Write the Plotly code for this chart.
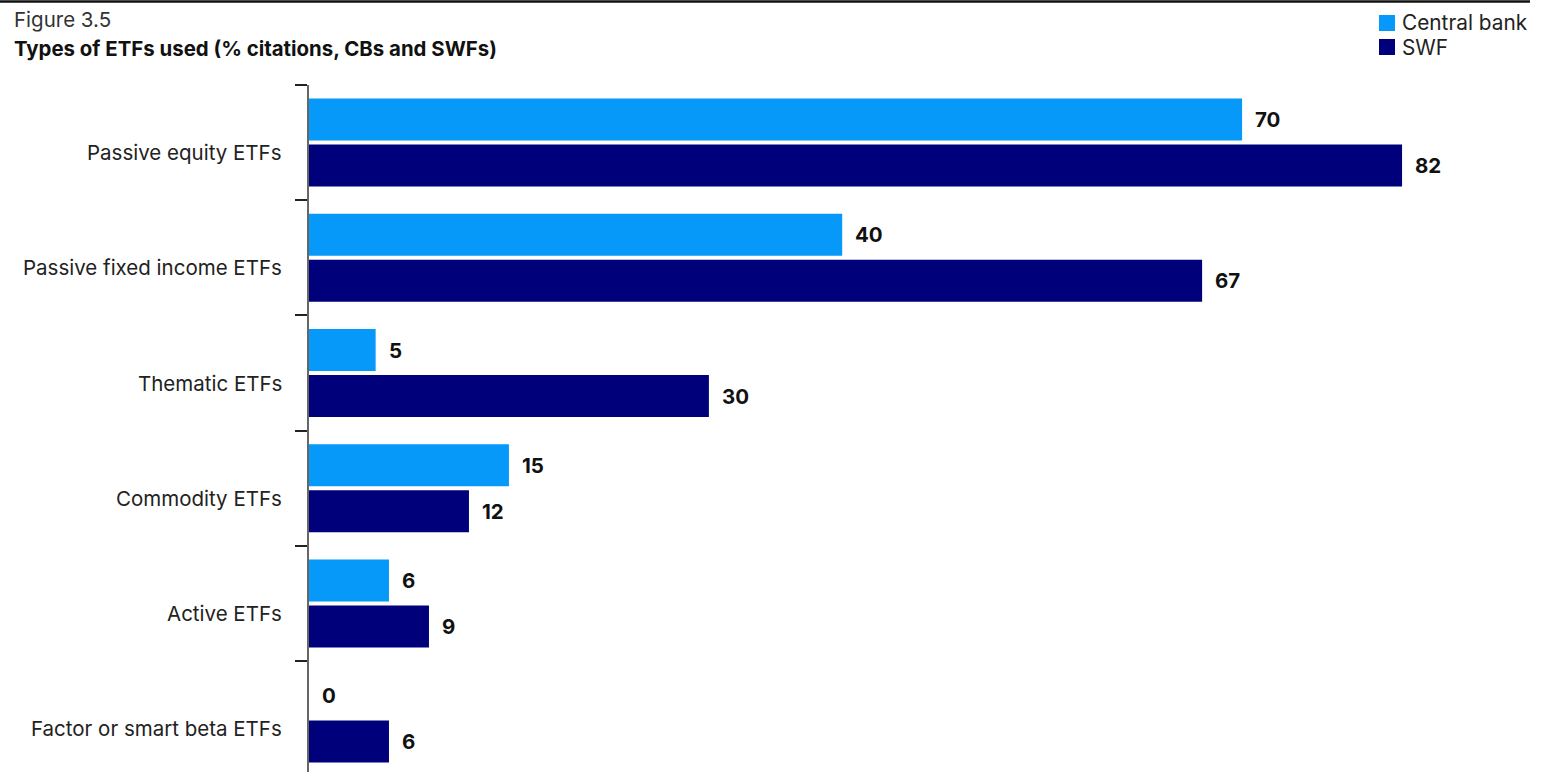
import plotly.graph_objects as go

categories = ["Passive equity ETFs", "Passive fixed income ETFs", "Thematic ETFs",
              "Commodity ETFs", "Active ETFs", "Factor or smart beta ETFs"]
central_bank = [70, 40, 5, 15, 6, 0]
swf = [82, 67, 30, 12, 9, 6]
series_names = ["Central bank", "SWF"]

CB_COLOR = "#0799FA"
SWF_COLOR = "#00007A"
FONT = "Inter"

W, H = 1544, 772
ML, MT = 309, 85
PW, PH = W - ML, H - MT


def px_x(p):
    return (p - ML) / PW


def px_y(p):
    return 1 - (p - MT) / PH


fig = go.Figure()
fig.add_trace(go.Bar(y=categories, x=central_bank, orientation="h", name=series_names[0],
                     marker=dict(color=CB_COLOR, line=dict(width=0)), showlegend=False))
fig.add_trace(go.Bar(y=categories, x=swf, orientation="h", name=series_names[1],
                     marker=dict(color=SWF_COLOR, line=dict(width=0)), showlegend=False))

annotations = []
for i, cat in enumerate(categories):
    for vals, off in ((central_bank, 23), (swf, -23)):
        annotations.append(dict(x=vals[i], y=cat, xref="x", yref="y", text="<b>%d</b>" % vals[i],
                                showarrow=False, xanchor="left", yanchor="middle",
                                xshift=11, yshift=off,
                                font=dict(family=FONT, size=20.5, color="#111111")))
    annotations.append(dict(x=0, y=cat, xref="paper", yref="y", text=cat, showarrow=False,
                            xanchor="right", yanchor="middle", xshift=-25, yshift=-10,
                            font=dict(family=FONT, size=20.5, color="#222222")))

annotations.append(dict(x=px_x(12), y=px_y(19), xref="paper", yref="paper", text="Figure 3.5",
                        showarrow=False, xanchor="left", yanchor="middle",
                        font=dict(family=FONT, size=20.5, color="#333333")))
annotations.append(dict(x=px_x(12), y=px_y(48), xref="paper", yref="paper",
                        text="<b>Types of ETFs used (% citations, CBs and SWFs)</b>",
                        showarrow=False, xanchor="left", yanchor="middle",
                        font=dict(family=FONT, size=20.4, color="#111111")))

shapes = [dict(type="line", xref="paper", yref="paper", x0=px_x(0), x1=px_x(1530),
               y0=px_y(1.5), y1=px_y(1.5), line=dict(color="#111111", width=2.5), layer="above")]

# legend
legend_rows = [(series_names[0], CB_COLOR, 23), (series_names[1], SWF_COLOR, 47)]
for name, col, cy in legend_rows:
    shapes.append(dict(type="rect", xref="paper", yref="paper",
                       x0=px_x(1379), x1=px_x(1395), y0=px_y(cy - 8), y1=px_y(cy + 8),
                       fillcolor=col, line=dict(width=0)))
    annotations.append(dict(x=px_x(1400), y=px_y(cy), xref="paper", yref="paper", text=name,
                            showarrow=False, xanchor="left", yanchor="middle",
                            font=dict(family=FONT, size=20.8, color="#222222")))

fig.update_layout(
    width=W, height=H,
    margin=dict(l=ML, r=0, t=MT, b=0, autoexpand=False),
    paper_bgcolor="white", plot_bgcolor="white",
    barmode="group", bargap=0.201, bargroupgap=0.087,
    showlegend=False,
    xaxis=dict(range=[0, PW / 13.33], visible=False, fixedrange=True),
    yaxis=dict(categoryorder="array", categoryarray=categories,
               range=[-0.5 + PH / 115.2, -0.5],
               showticklabels=False, ticks="outside", ticklen=12, tickwidth=1.5,
               tickcolor="#222222", tickson="boundaries",
               showline=True, linecolor="#666666", linewidth=2, showgrid=False, zeroline=False),
    annotations=annotations,
    shapes=shapes,
)

fig.write_html("out.html")
